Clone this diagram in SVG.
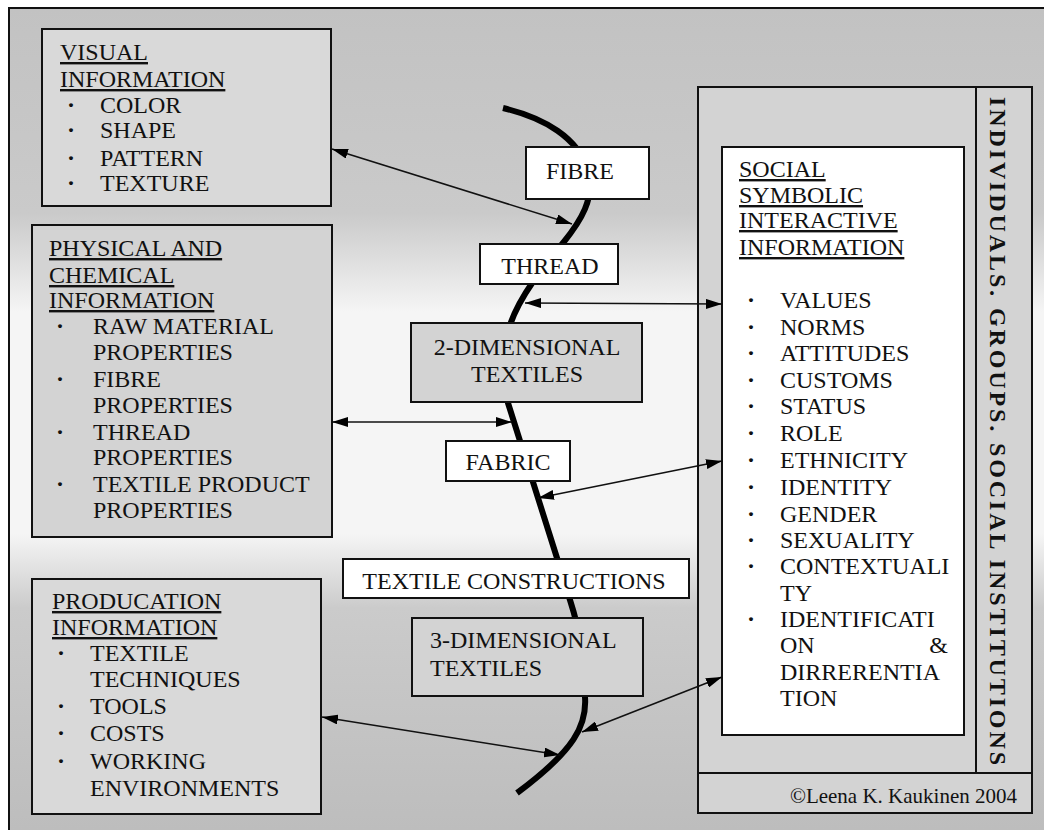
<svg xmlns="http://www.w3.org/2000/svg" width="1044" height="830" viewBox="0 0 1044 830" font-family="'Liberation Serif', 'Times New Roman', serif">
<defs>
<linearGradient id="bg" x1="0" y1="0" x2="0" y2="1">
<stop offset="0" stop-color="#c2c2c2"/>
<stop offset="0.25" stop-color="#cacaca"/>
<stop offset="0.37" stop-color="#f5f5f5"/>
<stop offset="0.64" stop-color="#f5f5f5"/>
<stop offset="0.73" stop-color="#cbcbcb"/>
<stop offset="1" stop-color="#bdbdbd"/>
</linearGradient>
<marker id="ah" viewBox="0 0 16 10" refX="16" refY="5" markerWidth="16" markerHeight="10" markerUnits="userSpaceOnUse" orient="auto-start-reverse">
<path d="M0,0 L16,5 L0,10 Z" fill="#000"/>
</marker>
<style>
text{font-family:'Liberation Serif','Times New Roman',serif;font-size:24px;fill:#111}
.box{stroke:#111;stroke-width:2}
.gray{fill:#d3d3d3}
.lgray{fill:#d9d9d9}
.white{fill:#fff}
.u{text-decoration:underline}
.c{text-anchor:middle}
.b{font-weight:bold}
.conn{stroke:#111;stroke-width:1.6;fill:none;marker-start:url(#ah);marker-end:url(#ah)}
</style>
</defs>
<rect x="0" y="0" width="1044" height="830" fill="#fff"/>
<rect x="9" y="8" width="1035" height="822" fill="url(#bg)"/>
<path d="M9,830 L9,8 L1044,8" fill="none" stroke="#111" stroke-width="2"/>

<g id="curve">
<path d="M503,108 C545,118 578,138 588,170 C596,198 580,222 563,243 C545,265 520,295 510,325 C504,345 505,380 508,403 L557,558 L570,600 C578,625 586,660 585,697 C587,725 575,750 517,793" fill="none" stroke="#000" stroke-width="6"/>
</g>

<g id="visual">
<rect class="box lgray" x="42" y="29" width="289" height="177"/>
<text x="60" y="60" class="u">VISUAL</text>
<text x="60" y="87" class="u">INFORMATION</text>
<text x="67" y="113" class="b">·</text><text x="100" y="113">COLOR</text>
<text x="67" y="138" class="b">·</text><text x="100" y="138">SHAPE</text>
<text x="67" y="166" class="b">·</text><text x="100" y="166">PATTERN</text>
<text x="67" y="191" class="b">·</text><text x="100" y="191">TEXTURE</text>
</g>

<g id="physical">
<rect class="box gray" x="32" y="225" width="300" height="312"/>
<text x="49" y="256" class="u">PHYSICAL AND </text>
<text x="49" y="283" class="u">CHEMICAL </text>
<text x="49" y="308" class="u">INFORMATION</text>
<text x="56" y="334" class="b">·</text><text x="93" y="334">RAW MATERIAL</text>
<text x="93" y="360">PROPERTIES</text>
<text x="56" y="387" class="b">·</text><text x="93" y="387">FIBRE</text>
<text x="93" y="413">PROPERTIES</text>
<text x="56" y="440" class="b">·</text><text x="93" y="440">THREAD</text>
<text x="93" y="465">PROPERTIES</text>
<text x="56" y="492" class="b">·</text><text x="93" y="492">TEXTILE PRODUCT</text>
<text x="93" y="518">PROPERTIES</text>
</g>

<g id="production">
<rect class="box lgray" x="32" y="579" width="289" height="235"/>
<text x="52" y="609" class="u">PRODUCATION</text>
<text x="52" y="635" class="u">INFORMATION</text>
<text x="57" y="661" class="b">·</text><text x="90" y="661">TEXTILE</text>
<text x="90" y="687">TECHNIQUES</text>
<text x="57" y="714" class="b">·</text><text x="90" y="714">TOOLS</text>
<text x="57" y="741" class="b">·</text><text x="90" y="741">COSTS</text>
<text x="57" y="769" class="b">·</text><text x="90" y="769">WORKING</text>
<text x="90" y="796">ENVIRONMENTS</text>
</g>

<g id="fibre">
<rect class="box white" x="526" y="147" width="123" height="52"/>
<text x="580" y="179" class="c">FIBRE</text>
</g>
<g id="thread">
<rect class="box white" x="480" y="244" width="138" height="40"/>
<text x="550" y="274" class="c">THREAD</text>
</g>
<g id="twod">
<rect class="box gray" x="411" y="323" width="231" height="79"/>
<text x="527" y="355" class="c">2-DIMENSIONAL</text>
<text x="527" y="382" class="c">TEXTILES</text>
</g>
<g id="fabric">
<rect class="box white" x="446" y="441" width="124" height="40"/>
<text x="508" y="470" class="c">FABRIC</text>
</g>
<g id="constructions">
<rect class="box white" x="343" y="559" width="346" height="39"/>
<text x="514" y="589" class="c">TEXTILE CONSTRUCTIONS</text>
</g>
<g id="threed">
<rect class="box gray" x="412" y="618" width="231" height="78"/>
<text x="430" y="648">3-DIMENSIONAL</text>
<text x="430" y="676">TEXTILES</text>
</g>

<g id="social-frame">
<rect class="box gray" x="698" y="87" width="334" height="726"/>
<line x1="976" y1="87" x2="976" y2="773" stroke="#111" stroke-width="2"/>
<line x1="698" y1="773" x2="1032" y2="773" stroke="#111" stroke-width="2"/>
<text class="b" transform="translate(990,97) rotate(90)" textLength="668" lengthAdjust="spacing">INDIVIDUALS. GROUPS. SOCIAL INSTITUTIONS</text>
<text x="1017" y="803" style="font-size:21px;text-anchor:end">©Leena K. Kaukinen 2004</text>
</g>

<g id="social">
<rect class="box white" x="722" y="147" width="242" height="588"/>
<text x="739" y="177" class="u">SOCIAL</text>
<text x="739" y="203" class="u">SYMBOLIC </text>
<text x="739" y="228" class="u">INTERACTIVE </text>
<text x="739" y="255" class="u">INFORMATION</text>
<text x="747" y="308" class="b">·</text><text x="780" y="308">VALUES</text>
<text x="747" y="335" class="b">·</text><text x="780" y="335">NORMS</text>
<text x="747" y="361" class="b">·</text><text x="780" y="361">ATTITUDES</text>
<text x="747" y="388" class="b">·</text><text x="780" y="388">CUSTOMS</text>
<text x="747" y="414" class="b">·</text><text x="780" y="414">STATUS</text>
<text x="747" y="441" class="b">·</text><text x="780" y="441">ROLE</text>
<text x="747" y="468" class="b">·</text><text x="780" y="468">ETHNICITY</text>
<text x="747" y="495" class="b">·</text><text x="780" y="495">IDENTITY</text>
<text x="747" y="522" class="b">·</text><text x="780" y="522">GENDER</text>
<text x="747" y="548" class="b">·</text><text x="780" y="548">SEXUALITY</text>
<text x="747" y="574" class="b">·</text><text x="780" y="574">CONTEXTUALI</text>
<text x="780" y="601">TY</text>
<text x="747" y="627" class="b">·</text><text x="780" y="627">IDENTIFICATI</text>
<text x="780" y="653">ON</text><text x="948" y="653" style="text-anchor:end">&amp;</text>
<text x="780" y="680">DIRRERENTIA</text>
<text x="780" y="706">TION</text>
</g>

<g id="connectors">
<line class="conn" x1="332" y1="149" x2="572" y2="224"/>
<line class="conn" x1="525" y1="303" x2="722" y2="304"/>
<line class="conn" x1="332" y1="422" x2="512" y2="422"/>
<line class="conn" x1="538" y1="498" x2="722" y2="461"/>
<line class="conn" x1="322" y1="717" x2="560" y2="755"/>
<line class="conn" x1="582" y1="732" x2="722" y2="677"/>
</g>
</svg>
